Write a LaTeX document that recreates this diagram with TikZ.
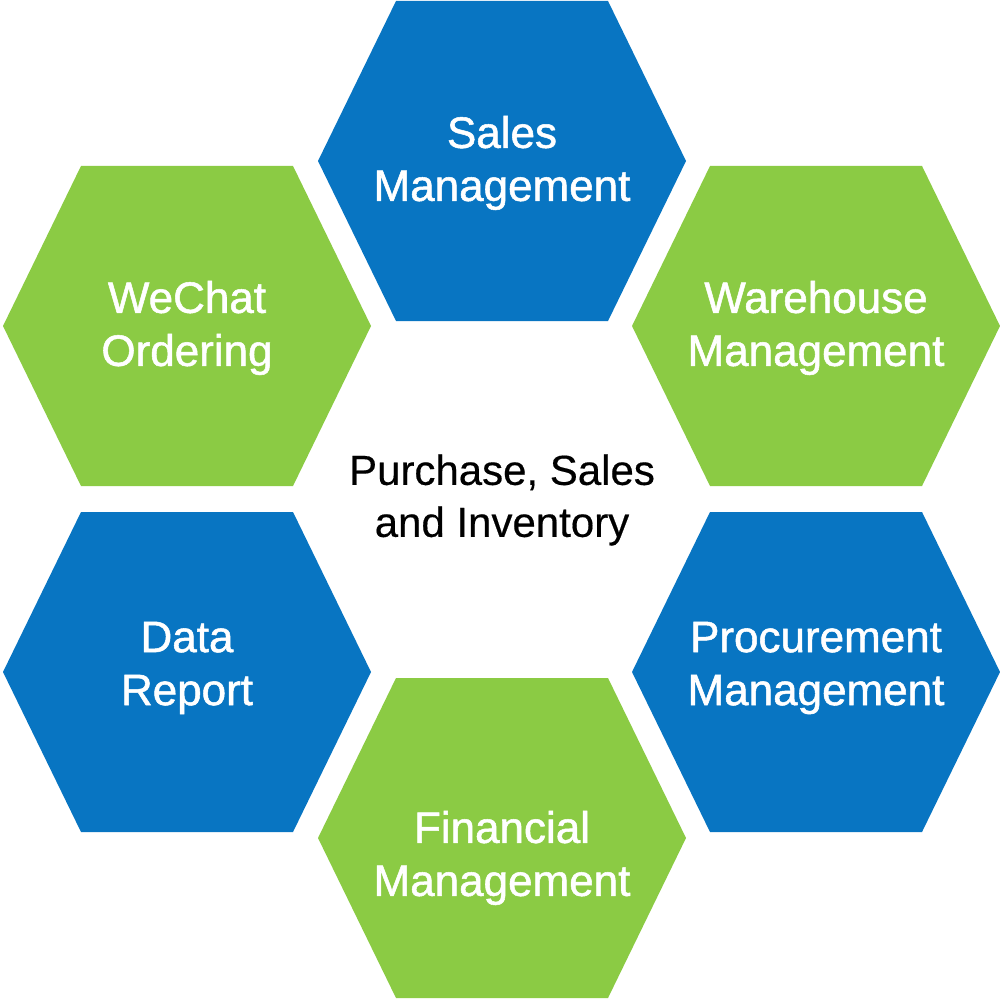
\documentclass[tikz,border=0pt]{standalone}
\usepackage{fontspec}
\setmainfont{Liberation Sans}
\newfontfamily\hexfont{Liberation Sans}[FakeBold=1.2]
\newfontfamily\midfont{Liberation Sans}[FakeBold=0.4]
\definecolor{hexblue}{RGB}{8,117,194}
\definecolor{hexgreen}{RGB}{139,203,68}
\begin{document}
\begin{tikzpicture}[x=1pt,y=-1pt,
  pics/hexa/.style={code={\fill[#1] (-184,0) -- (-106,-160) -- (106,-160) -- (184,0) -- (106,160) -- (-106,160) -- cycle;}},
  hextext/.style={text=white, align=center, inner sep=0pt, font=\hexfont\fontsize{44}{53}\selectfont},
  centertext/.style={text=black, align=center, inner sep=0pt, font=\midfont\fontsize{42}{52}\selectfont}]
\useasboundingbox[fill=white] (0,0) rectangle (1000,1000);
\pic at (502,161) {hexa=hexblue};
\pic at (187,326) {hexa=hexgreen};
\pic at (816,326) {hexa=hexgreen};
\pic at (187,672) {hexa=hexblue};
\pic at (816,672) {hexa=hexblue};
\pic at (502,838) {hexa=hexgreen};
\node[hextext] (sales) at (502,163) {Sales\\Management};
\node[hextext] (wechat) at (187,328) {WeChat\\Ordering};
\node[hextext] (warehouse) at (816,328) {Warehouse\\Management};
\node[hextext] (data) at (187,668) {Data\\Report};
\node[hextext] (procure) at (816,668) {Procurement\\Management};
\node[hextext] (finance) at (502,858) {Financial\\Management};
\node[centertext] (center) at (502,500) {Purchase, Sales\\and Inventory};
\end{tikzpicture}
\end{document}
